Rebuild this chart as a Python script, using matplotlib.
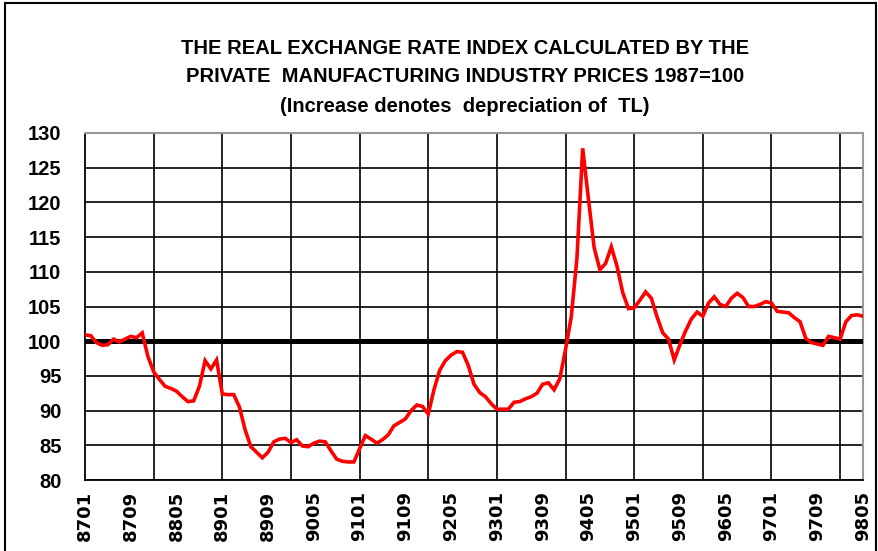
import numpy as np
import matplotlib.pyplot as plt
from matplotlib.lines import Line2D

# monthly index values, 1987-01 .. 1998-05
rer_index = [
    100.9, 100.8, 99.8, 99.4, 99.5, 100.3, 99.9, 100.3, 100.7, 100.5, 101.2, 97.8,   # 1987
    95.6, 94.5, 93.5, 93.2, 92.8, 92.0, 91.3, 91.4, 93.5, 97.2, 96.0, 97.3,         # 1988
    92.4, 92.3, 92.3, 90.5, 87.2, 84.8, 84.0, 83.2, 84.0, 85.5, 85.9, 86.0,         # 1989
    85.4, 85.8, 84.9, 84.8, 85.3, 85.6, 85.5, 84.2, 83.0, 82.7, 82.6, 82.6,         # 1990
    84.5, 86.4, 85.9, 85.3, 85.8, 86.5, 87.8, 88.3, 88.8, 90.0, 90.8, 90.6,         # 1991
    89.5, 93.0, 95.8, 97.2, 98.0, 98.5, 98.4, 96.5, 93.8, 92.6, 92.0, 91.0,         # 1992
    90.2, 90.2, 90.2, 91.2, 91.3, 91.7, 92.0, 92.5, 93.8, 94.0, 93.0, 94.6,         # 1993
    98.8, 103.5, 112.0, 127.8, 120.5, 113.5, 110.3, 111.2, 113.6, 110.8, 107.0, 104.7,  # 1994
    104.8, 105.9, 107.1, 106.2, 103.5, 101.2, 100.3, 97.3, 99.5, 101.5, 103.2, 104.2,   # 1995
    103.6, 105.5, 106.4, 105.3, 105.0, 106.2, 106.9, 106.3, 105.0, 105.0, 105.3, 105.7,  # 1996
    105.5, 104.3, 104.2, 104.1, 103.4, 102.8, 100.4, 99.8, 99.6, 99.4, 100.7, 100.5,     # 1997
    100.3, 102.8, 103.7, 103.8, 103.6,                                                  # 1998
]
tick_labels = ['8701', '8709', '8805', '8901', '8909', '9005', '9101', '9109', '9205',
               '9301', '9309', '9405', '9501', '9509', '9605', '9701', '9709', '9805']
y_ticks = [80, 85, 90, 95, 100, 105, 110, 115, 120, 125, 130]
title_lines = ['THE REAL EXCHANGE RATE INDEX CALCULATED BY THE',
               'PRIVATE  MANUFACTURING INDUSTRY PRICES 1987=100',
               '(Increase denotes  depreciation of  TL)']

plt.rcParams['font.family'] = ['Liberation Sans', 'DejaVu Sans']

fig = plt.figure(figsize=(8.79, 5.51), dpi=100)
ax = fig.add_axes([85 / 879, 1 - 480 / 551, 778 / 879, 347 / 551])

months = np.arange(len(rer_index))
ax.plot(months, rer_index, color='#ff0000', lw=2.6, zorder=4, solid_joinstyle='miter')
ax.axhline(100, color='black', lw=3.6, zorder=3)

ax.set_xlim(0, len(rer_index) - 1)
ax.set_ylim(80, 130)
ax.set_yticks(y_ticks)
ax.set_yticklabels([str(v) for v in y_ticks], fontsize=14.5, fontweight='bold')
ax.set_xticks(months[::8])
ax.set_xticklabels(tick_labels, rotation=90, fontsize=13, fontweight='bold',
                   family=['DejaVu Sans'])
# yearly gridlines, kept even where they fall on a labelled month
ax.xaxis.remove_overlapping_locs = False
ax.set_xticks(np.arange(12, len(rer_index), 12), minor=True)
ax.tick_params(axis='both', which='both', length=0)
ax.tick_params(axis='y', pad=17)
ax.tick_params(axis='x', pad=8)

ax.grid(axis='y', which='major', color='black', lw=1.2)
ax.grid(axis='x', which='minor', color='black', lw=1.2)
ax.set_axisbelow(True)

for side in ['top', 'right']:
    ax.spines[side].set_color('#999999')
    ax.spines[side].set_linewidth(1.5)
for side in ['left', 'bottom']:
    ax.spines[side].set_color('black')
    ax.spines[side].set_linewidth(1.3)

for k, line in enumerate(title_lines):
    fig.text(465 / 879, 1 - (48 + 29 * k) / 551, line, ha='center', va='center',
             fontsize=14.5, fontweight='bold')

# outer frame of the original picture
for xs, ys in [([5 / 879, 5 / 879], [0, 1 - 3 / 551]),
               ([5 / 879, 876 / 879], [1 - 3 / 551, 1 - 3 / 551]),
               ([876 / 879, 876 / 879], [0, 1 - 3 / 551])]:
    fig.add_artist(Line2D(xs, ys, color='black', lw=1.5, transform=fig.transFigure))

fig.savefig('out.png', dpi=100)
